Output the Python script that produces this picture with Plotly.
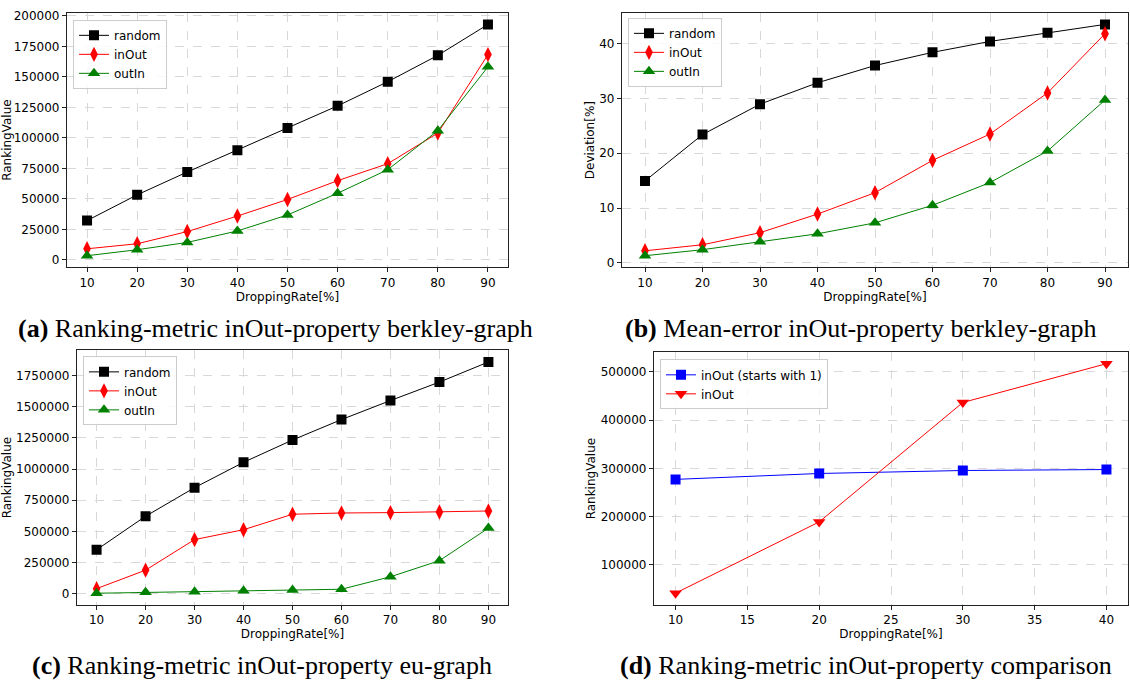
import plotly.graph_objects as go

# ---------------- data ----------------
rates = [10, 20, 30, 40, 50, 60, 70, 80, 90]

a_random = [32300, 53400, 72100, 90000, 108100, 126300, 146100, 167700, 193000]
a_inout = [9200, 13300, 23300, 36000, 49600, 65000, 78900, 104000, 168300]
a_outin = [3500, 8400, 14400, 23800, 36900, 54700, 74000, 106000, 158300]

b_random = [14.95, 23.4, 28.95, 32.85, 36.0, 38.4, 40.4, 42.0, 43.5]
b_inout = [2.2, 3.3, 5.5, 8.9, 12.8, 18.7, 23.5, 31.0, 41.8]
b_outin = [1.3, 2.4, 3.85, 5.3, 7.3, 10.5, 14.65, 20.4, 29.7]

c_random = [353000, 622000, 851000, 1054000, 1233000, 1396600, 1549000, 1697000, 1858000]
c_inout = [42000, 190000, 435000, 514000, 638000, 648000, 651000, 656000, 664000]
c_outin = [5000, 12000, 17000, 24000, 30000, 37000, 137000, 266000, 527000]

d_rates = [10, 20, 30, 40]
d_inout_start1 = [277200, 289400, 295600, 297600]
d_inout = [41400, 189000, 436600, 517000]

captions = [
    "<b>(a)</b> Ranking-metric inOut-property berkley-graph",
    "<b>(b)</b> Mean-error inOut-property berkley-graph",
    "<b>(c)</b> Ranking-metric inOut-property eu-graph",
    "<b>(d)</b> Ranking-metric inOut-property comparison",
]

# ---------------- figure ----------------
fig = go.Figure()

BLACK = "#000000"
RED = "#ff0000"
GREEN = "#008000"
BLUE = "#0000ff"


def add(x, y, name, color, symbol, size, xa, ya, legend):
    fig.add_trace(go.Scatter(
        x=x, y=y, name=name, mode="lines+markers",
        line=dict(color=color, width=1),
        marker=dict(symbol=symbol, size=size, color=color,
                    line=dict(width=0)),
        xaxis=xa, yaxis=ya, legend=legend,
    ))


add(rates, a_random, "random", BLACK, "square", 10, "x", "y", "legend")
add(rates, a_inout, "inOut", RED, "diamond-tall", 11, "x", "y", "legend")
add(rates, a_outin, "outIn", GREEN, "triangle-up", 11, "x", "y", "legend")

add(rates, b_random, "random", BLACK, "square", 10, "x2", "y2", "legend2")
add(rates, b_inout, "inOut", RED, "diamond-tall", 11, "x2", "y2", "legend2")
add(rates, b_outin, "outIn", GREEN, "triangle-up", 11, "x2", "y2", "legend2")

add(rates, c_random, "random", BLACK, "square", 10, "x3", "y3", "legend3")
add(rates, c_inout, "inOut", RED, "diamond-tall", 11, "x3", "y3", "legend3")
add(rates, c_outin, "outIn", GREEN, "triangle-up", 11, "x3", "y3", "legend3")

add(d_rates, d_inout_start1, "inOut (starts with 1)", BLUE, "square", 10, "x4", "y4", "legend4")
add(d_rates, d_inout, "inOut", RED, "triangle-down", 11, "x4", "y4", "legend4")

W, H = 1130, 686
font = dict(family="DejaVu Sans", size=12, color="#000000")


def ax(domain, anchor, rng, title, tickvals=None, dtick=None, fmt=None):
    d = dict(
        domain=domain, anchor=anchor, range=rng,
        showline=True, mirror=True, linecolor="#222222", linewidth=1.2,
        ticks="outside", ticklen=4, tickcolor="#222222",
        showgrid=True, gridcolor="#d8d8d8", griddash="dash", gridwidth=1,
        zeroline=False,
        title=dict(text=title, font=font, standoff=2),
        tickfont=font,
    )
    if tickvals is not None:
        d["tickmode"] = "array"
        d["tickvals"] = tickvals
    if dtick is not None:
        d["tickmode"] = "linear"
        d["dtick"] = dtick
        d["tick0"] = 0
    if fmt is not None:
        d["tickformat"] = fmt
    return d


def px(x):
    return x / W


def py(y):
    return 1 - y / H


xa_dom = [px(67), px(508)]
xb_dom = [px(622), px(1128)]
xc_dom = [px(77), px(508)]
xd_dom = [px(654), px(1128)]
top_dom = [py(266), py(9)]
bot_dom = [py(607), py(350)]

legend_style = dict(
    bgcolor="rgba(255,255,255,0.85)", bordercolor="#cccccc", borderwidth=1,
    font=font, xanchor="left", yanchor="top", tracegroupgap=0,
)

fig.update_layout(
    width=W, height=H,
    margin=dict(l=0, r=0, t=0, b=0),
    paper_bgcolor="white", plot_bgcolor="white",
    font=font,
    xaxis=ax(xa_dom, "y", [6, 94], "DroppingRate[%]", tickvals=rates),
    yaxis=ax(top_dom, "x", [-5975, 202475], "RankingValue", dtick=25000, fmt="d"),
    xaxis2=ax(xb_dom, "y2", [6, 94], "DroppingRate[%]", tickvals=rates),
    yaxis2=ax(top_dom, "x2", [-0.81, 45.6], "Deviation[%]", dtick=10, fmt="d"),
    xaxis3=ax(xc_dom, "y3", [6, 94], "DroppingRate[%]", tickvals=rates),
    yaxis3=ax(bot_dom, "x3", [-87650, 1950650], "RankingValue", dtick=250000, fmt="d"),
    xaxis4=ax(xd_dom, "y4", [8.5, 41.5], "DroppingRate[%]", dtick=5),
    yaxis4=ax([py(607), py(352)], "x4", [17200, 540400], "RankingValue", dtick=100000, fmt="d"),
    legend=dict(x=px(73), y=py(16), **legend_style),
    legend2=dict(x=px(628), y=py(14), **legend_style),
    legend3=dict(x=px(83), y=py(356), **legend_style),
    legend4=dict(x=px(660), y=py(359), **legend_style),
    showlegend=True,
)

cap_font = dict(family="Liberation Serif", size=26, color="#000000")
cap_pos = [(275, 328), (860, 328), (262, 668), (866, 668)]
for text, (cx, cy) in zip(captions, cap_pos):
    fig.add_annotation(
        text=text, x=px(cx), y=py(cy), xref="paper", yref="paper",
        xanchor="center", yanchor="middle", showarrow=False, font=cap_font,
    )

fig.write_html("out.html")
